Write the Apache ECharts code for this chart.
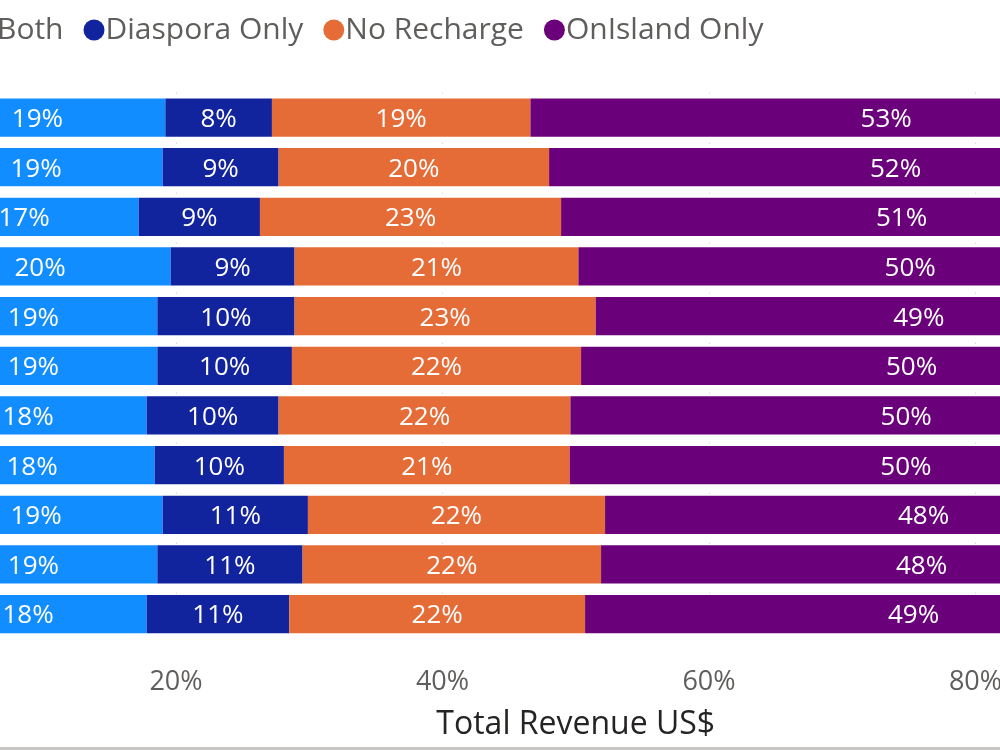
<!DOCTYPE html>
<html>
<head>
<meta charset="utf-8">
<script src="https://cdn.jsdelivr.net/npm/echarts@6/dist/echarts.min.js"></script>
<style>
  html, body { margin: 0; padding: 0; background: #fff; }
  #chart { width: 1000px; height: 747px; border-bottom: 3px solid #c8c6c4; }
</style>
</head>
<body>
<div id="chart"></div>
<script>
var categories = ['Group 1', 'Group 2', 'Group 3', 'Group 4', 'Group 5', 'Group 6',
                  'Group 7', 'Group 8', 'Group 9', 'Group 10', 'Group 11'];
var both         = [19.2, 19.0, 17.2, 19.6, 18.6, 18.6, 17.8, 18.4, 19.0, 18.6, 17.8];
var diasporaOnly = [8.0, 8.7, 9.1, 9.3, 10.3, 10.1, 9.9, 9.7, 10.9, 10.9, 10.7];
var noRecharge   = [19.4, 20.3, 22.6, 21.3, 22.6, 21.7, 21.9, 21.45, 22.3, 22.4, 22.2];
var onIslandOnly = [53.4, 52.0, 51.1, 49.8, 48.5, 49.6, 50.4, 50.45, 47.8, 48.1, 49.3];
var xTicks = [0, 20, 40, 60, 80, 100];

var font = '"Open Sans", "Segoe UI", sans-serif';
var chart = echarts.init(document.getElementById('chart'));

function seg(name, data, color) {
  return {
    name: name,
    type: 'bar',
    stack: 'total',
    data: data,
    barCategoryGap: '23%',
    itemStyle: { color: color },
    emphasis: { disabled: true },
    label: {
      show: true,
      position: 'inside',
      offset: [0, 2],
      color: '#fff',
      fontFamily: font,
      fontSize: 26,
      formatter: function (p) { return Math.round(p.value) + '%'; }
    }
  };
}

var option = {
  animation: false,
  textStyle: { fontFamily: font },
  legend: {
    left: -30,
    top: 10,
    icon: 'circle',
    itemWidth: 21,
    itemHeight: 21,
    itemGap: 20,
    textStyle: { color: '#605e5c', fontSize: 30, fontFamily: font, padding: [0, 0, 0, -4] }
  },
  grid: {
    left: -90.5, width: 1332.5, top: 92.7, height: 546.2,
    containLabel: false, outerBoundsMode: 'none'
  },
  xAxis: {
    type: 'value',
    min: 0,
    max: 100,
    interval: 20,
    name: 'Total Revenue US$',
    nameLocation: 'middle',
    nameGap: 70,
    nameTextStyle: { color: '#252423', fontSize: 32, fontFamily: font },
    axisLine: { show: false },
    axisTick: { show: false },
    axisLabel: {
      color: '#605e5c',
      fontSize: 27,
      margin: 30,
      formatter: function (v) { return xTicks.indexOf(v) >= 0 ? v + '%' : ''; }
    },
    splitLine: { show: true, lineStyle: { color: '#c8c6c4', type: [1, 24], width: 1 } }
  },
  yAxis: {
    type: 'category',
    data: categories,
    inverse: true,
    axisLine: { show: false },
    axisTick: { show: false },
    axisLabel: { show: false }
  },
  series: [
    seg('Both', both, '#118dff'),
    seg('Diaspora Only', diasporaOnly, '#12239e'),
    seg('No Recharge', noRecharge, '#e66c37'),
    seg('OnIsland Only', onIslandOnly, '#6b007b')
  ]
};

chart.setOption(option);
</script>
</body>
</html>
